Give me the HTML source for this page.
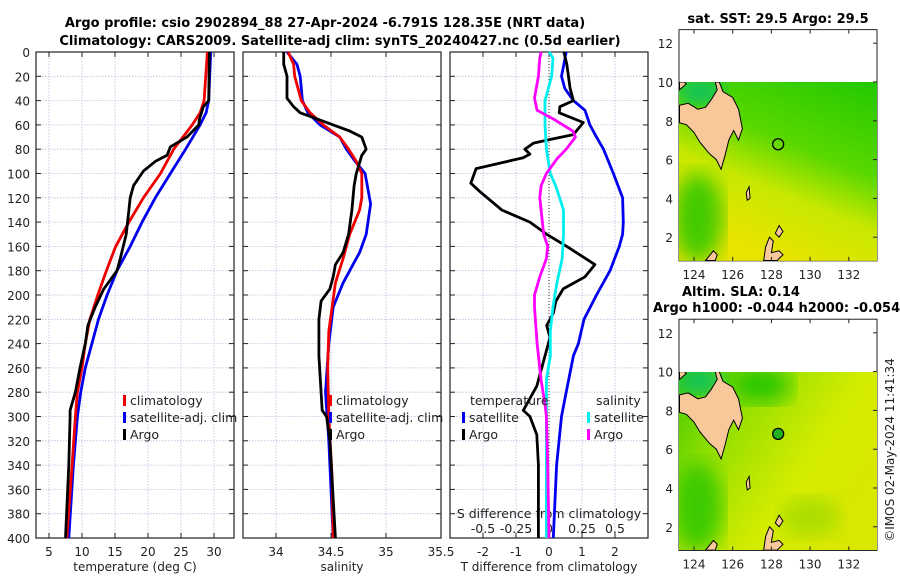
<!DOCTYPE html>
<html><head><meta charset="utf-8"><style>
body{margin:0;background:#fff;}
svg{display:block;font-family:"DejaVu Sans","Liberation Sans",sans-serif;}
.t{font-size:12px;fill:#222;}
.lg{font-size:12.5px;fill:#222;}
.b{font-size:13px;font-weight:bold;fill:#000;}
</style></head><body>
<svg id="c" width="900" height="580" viewBox="0 0 900 580">
<defs>
<linearGradient id="sstg" x1="1" y1="0" x2="0.55" y2="1"><stop offset="0" stop-color="#22c800"/><stop offset="0.45" stop-color="#5ad800"/><stop offset="0.7" stop-color="#c8e800"/><stop offset="1" stop-color="#e8e400"/></linearGradient>
<linearGradient id="slag" x1="0" y1="0" x2="1" y2="0.6"><stop offset="0" stop-color="#40cc00"/><stop offset="0.35" stop-color="#9ae000"/><stop offset="0.7" stop-color="#d4ec00"/><stop offset="1" stop-color="#d8e800"/></linearGradient>
<filter id="bl"><feGaussianBlur stdDeviation="10"/></filter>
<clipPath id="m1c"><rect x="679" y="82" width="198" height="179"/></clipPath>
<clipPath id="m2c"><rect x="679" y="372" width="198" height="178"/></clipPath>
</defs>
<text class="b" x="325" y="27" text-anchor="middle">Argo profile: csio 2902894_88 27-Apr-2024 -6.791S 128.35E (NRT data)</text>
<text class="b" x="340" y="45" text-anchor="middle">Climatology: CARS2009. Satellite-adj clim: synTS_20240427.nc (0.5d earlier)</text>
<g id="plots"></g>
<text class="b" x="778" y="23" text-anchor="middle">sat. SST: 29.5 Argo: 29.5</text>
<text class="b" x="682" y="296">Altim. SLA: 0.14</text>
<text class="b" x="653" y="312">Argo h1000: -0.044 h2000: -0.054</text>
<text class="t" transform="translate(894,450) rotate(-90)" text-anchor="middle">©IMOS 02-May-2024 11:41:34</text>
</svg>
<script>
// ---- data (depth in m) ----
const climTdepth=[0,40,50,60,80,100,120,140,160,180,200,220,240,260,280,300,340,400];
const climT=[29.0,28.5,27.9,26.7,23.9,21.9,19.3,17.1,15.1,13.7,12.4,11.2,10.5,10.0,9.3,9.0,8.5,7.7];
const satTdepth=[0,40,50,60,80,100,120,140,160,180,200,220,240,260,280,300,340,400];
const satT=[29.5,29.2,28.8,27.9,25.7,23.4,21.1,19.1,17.3,15.3,13.8,12.5,11.5,10.5,9.8,9.3,8.7,8.0];
const argoTdepth=[0,40,45,55,60,70,78,85,90,98,110,120,130,150,170,180,195,210,225,240,260,280,295,300,340,400];
const argoT=[29.3,29.2,28.4,27.8,27.7,25.9,23.4,22.9,21.1,19.3,17.8,17.3,17.1,16.7,15.8,15.3,13.3,12.0,10.9,10.5,9.7,9.0,8.2,8.2,8.0,7.5];
const climSdepth=[0,10,20,30,40,50,60,70,80,90,100,120,130,150,170,190,210,230,260,300,350,400];
const climS=[34.11,34.16,34.17,34.2,34.23,34.31,34.43,34.58,34.66,34.73,34.78,34.78,34.76,34.67,34.61,34.54,34.51,34.48,34.47,34.48,34.51,34.52];
const satSdepth=[0,10,20,40,50,60,70,80,90,100,125,150,165,175,190,210,240,280,320,400];
const satS=[34.10,34.19,34.22,34.24,34.29,34.40,34.58,34.64,34.72,34.81,34.86,34.82,34.76,34.70,34.61,34.52,34.48,34.45,34.48,34.52];
const argoSdepth=[0,10,20,38,45,50,55,60,65,70,80,85,100,110,130,150,165,175,185,195,205,220,250,280,295,300,320,400];
const argoS=[34.07,34.07,34.10,34.10,34.16,34.22,34.37,34.52,34.67,34.78,34.82,34.78,34.73,34.71,34.69,34.66,34.61,34.54,34.52,34.49,34.41,34.39,34.39,34.41,34.42,34.46,34.49,34.54];
const dTsatDepth=[0,10,20,30,40,48,60,70,80,100,120,140,150,160,180,200,220,240,250,280,300,340,400];
const dTsat=[0.52,0.45,0.38,0.48,0.74,1.09,1.24,1.44,1.65,1.95,2.23,2.25,2.23,2.13,1.85,1.44,1.06,0.89,0.74,0.52,0.38,0.23,0.13];
const dTargoDepth=[0,10,30,40,45,50,58,68,72,75,80,84,87,96,108,115,130,140,150,160,175,185,195,205,215,225,235,255,275,295,300,315,340,400];
const dTargo=[0.45,0.54,0.64,0.74,0.33,0.31,1.04,0.74,0.03,-0.47,-0.73,-0.58,-0.78,-2.21,-2.37,-2.09,-1.43,-0.58,-0.07,0.54,1.39,1.09,0.43,0.21,0.13,-0.07,0.03,-0.17,-0.37,-0.78,-0.58,-0.37,-0.32,-0.32];
const dSsatDepth=[0,5,20,40,60,80,100,110,120,130,150,170,190,210,230,250,270,300,340,400];
const dSsat=[0.0,0.03,0.02,-0.03,-0.03,-0.02,0.01,0.05,0.08,0.11,0.11,0.10,0.06,0.03,0.01,0.01,-0.02,-0.02,-0.02,-0.02];
const dSargoDepth=[0,5,20,38,48,55,65,70,80,88,100,110,120,150,160,170,185,200,210,240,270,290,300,340,400];
const dSargo=[-0.06,-0.07,-0.08,-0.11,-0.09,0.03,0.18,0.20,0.13,0.06,-0.02,-0.06,-0.07,-0.04,-0.01,-0.02,-0.07,-0.11,-0.11,-0.09,-0.06,-0.03,-0.02,-0.01,0.0];
const depthTicks=[0,20,40,60,80,100,120,140,160,180,200,220,240,260,280,300,320,340,360,380,400];
const tempTicks=[5,10,15,20,25,30];
const salTicks=[34,34.5,35,35.5];
const salTickLabels=["34","34.5","35","35.5"];
const dTTicks=[-2,-1,0,1,2];
const dSTicks=[-0.5,-0.25,0,0.25,0.5];
const lonTicks=[124,126,128,130,132];
const latTicks=[2,4,6,8,10,12];
const argoLon=128.35, argoLat=-(-6.791);

const NS="http://www.w3.org/2000/svg";
const G=document.getElementById('plots');
function mk(tag,attrs,parent){const e=document.createElementNS(NS,tag);for(const k in attrs)e.setAttribute(k,attrs[k]);(parent||G).appendChild(e);return e;}
const Y0=52,Y1=538;
const yD=d=>Y0+(d/400)*(Y1-Y0);
function lin(d0,d1,r0,r1){return v=>r0+(v-d0)/(d1-d0)*(r1-r0);}
const panels=[
 {name:'temperature',x0:36,x1:234,dom:[3.03,33.03]},
 {name:'salinity',x0:243,x1:441,dom:[33.7,35.5]},
 {name:'difference',x0:450,x1:648,dom:[-3,3]}
];
panels.forEach(p=>{p.sx=lin(p.dom[0],p.dom[1],p.x0,p.x1);});
const xT=panels[0].sx, xS=panels[1].sx, xDT=panels[2].sx, xDS=v=>xDT(v*4);

function text(x,y,s,anchor,cls,name){const t=mk('text',{x:x,y:y,'text-anchor':anchor||'start',class:cls||'t'});t.textContent=s;


return t;}

panels.forEach((p,pi)=>{
 const g=mk('g',{});
 
 
 const vt=pi==0?tempTicks:pi==1?salTicks:dTTicks;
 depthTicks.forEach(d=>{const l=mk('line',{x1:p.x0,x2:p.x1,y1:yD(d),y2:yD(d),stroke:'#b8bedd','stroke-width':0.8,'stroke-dasharray':'1.5,1.5'},g);
  
  
  mk('line',{x1:p.x0,x2:p.x0+5,y1:yD(d),y2:yD(d),stroke:'#222'},g);
  mk('line',{x1:p.x1-5,x2:p.x1,y1:yD(d),y2:yD(d),stroke:'#222'},g);});
 vt.forEach(v=>{const x=p.sx(v);const l=mk('line',{x1:x,x2:x,y1:Y0,y2:Y1,stroke:'#b8bedd','stroke-width':0.8,'stroke-dasharray':'1.5,1.5'},g);
  
  
  mk('line',{x1:x,x2:x,y1:Y0,y2:Y0+5,stroke:'#222'},g);mk('line',{x1:x,x2:x,y1:Y1-5,y2:Y1,stroke:'#222'},g);});
 const r=mk('rect',{x:p.x0,y:Y0,width:p.x1-p.x0,height:Y1-Y0,fill:'none',stroke:'#222','stroke-width':1.2},g);
 
 
});
depthTicks.forEach(d=>text(30,yD(d)+5,String(d),'end','t','depth-tick-label'));
tempTicks.forEach(v=>text(xT(v),556,String(v),'middle','t','temp-tick-label'));
salTicks.forEach((v,i)=>text(xS(v),556,salTickLabels[i],'middle','t','salinity-tick-label'));
dTTicks.forEach(v=>text(xDT(v),556,String(v),'middle','t','tdiff-tick-label'));
text(135,571,'temperature (deg C)','middle','t','temp-axis-title');
text(342,571,'salinity','middle','t','salinity-axis-title');
text(549,571,'T difference from climatology','middle','t','tdiff-axis-title');
text(549,518,'S difference from climatology','middle','lg','sdiff-axis-title');
dSTicks.forEach(v=>text(xDS(v),533,String(v),'middle','lg','sdiff-tick-label'));
const z=mk('line',{x1:xDT(0),x2:xDT(0),y1:Y0,y2:Y1,stroke:'#333','stroke-width':1,'stroke-dasharray':'1,2'});



function series(depths,vals,sx,color,name){
 const pts=depths.map((d,i)=>sx(vals[i]).toFixed(1)+','+yD(d).toFixed(1)).join(' ');
 const pl=mk('polyline',{points:pts,fill:'none',stroke:color,'stroke-width':2.8,'stroke-linejoin':'round'});
 
 
}
series(satTdepth,satT,xT,'#0000ee','temp-satellite-line');
series(climTdepth,climT,xT,'#ee0000','temp-climatology-line');
series(argoTdepth,argoT,xT,'#000','temp-argo-line');
series(satSdepth,satS,xS,'#0000ee','sal-satellite-line');
series(climSdepth,climS,xS,'#ee0000','sal-climatology-line');
series(argoSdepth,argoS,xS,'#000','sal-argo-line');
series(dTsatDepth,dTsat,xDT,'#0000ee','tdiff-satellite-line');
series(dTargoDepth,dTargo,xDT,'#000','tdiff-argo-line');
series(dSsatDepth,dSsat,xDS,'#00eeee','sdiff-satellite-line');
series(dSargoDepth,dSargo,xDS,'#ff00ff','sdiff-argo-line');

function legend(x,y,color,label,name){
 const m=mk('rect',{x:x,y:y-10,width:3,height:11,fill:color});
 
 
 text(x+7,y,label,'start','lg',name+'-label');
}
[[123,'#ee0000','climatology'],[123,'#0000ee','satellite-adj. clim'],[123,'#000','Argo']].forEach((e,i)=>legend(e[0],405+i*17,e[1],e[2],'legend-temp-'+i));
[[329,'#ee0000','climatology'],[329,'#0000ee','satellite-adj. clim'],[329,'#000','Argo']].forEach((e,i)=>legend(e[0],405+i*17,e[1],e[2],'legend-sal-'+i));
text(470,405,'temperature','start','lg','legend-tdiff-heading');
text(596,405,'salinity','start','lg','legend-sdiff-heading');
legend(462,422,'#0000ee','satellite','legend-tdiff-sat');
legend(462,439,'#000','Argo','legend-tdiff-argo');
legend(587,422,'#00eeee','satellite','legend-sdiff-sat');
legend(587,439,'#ff00ff','Argo','legend-sdiff-argo');

// ---- maps ----
const mx=lon=>694+(lon-124)*19.35;
const land=[[125.3,10],[125.5,9.5],[126.0,9.2],[126.3,8.6],[126.5,7.6],[126.3,7.0],[126.05,7.5],[125.8,7.0],[125.6,6.2],[125.4,5.5],[125.15,6.0],[124.8,6.3],[124.3,6.9],[124.0,7.4],[123.6,7.8],[123.25,7.9],[123.25,8.8],[123.7,8.9],[124.2,8.6],[124.6,8.7],[124.9,9.1],[125.2,9.6],[125.1,10]];
const islands=[
 [[123.25,9.6],[123.6,9.9],[123.5,10],[123.25,10]],
 [[127.6,0.8],[127.7,1.5],[127.9,2.0],[128.1,1.8],[128.0,1.2],[128.4,1.3],[128.6,1.1],[128.3,0.8]],
 [[128.2,2.2],[128.4,2.6],[128.6,2.3],[128.4,2.0]],
 [[124.6,0.8],[125.0,1.3],[125.2,1.1],[125.1,0.8]],
 [[126.7,4.3],[126.85,4.6],[126.9,4.0],[126.75,3.9]]
];
function drawMap(top,clip,grad,name,fillCircle){
 const my=lat=>top+(10-lat)*19.4;
 const g=mk('g',{});
 
 
 mk('rect',{x:679,y:my(12.7),width:198,height:my(0.78)-my(12.7),fill:'#fff',stroke:'#222'},g);
 const f=mk('g',{'clip-path':'url(#'+clip+')'},g);
 mk('rect',{x:679,y:my(10),width:198,height:my(0.78)-my(10),fill:'url(#'+grad+')'},f);
 mk('ellipse',{cx:mx(124.2),cy:my(3),rx:25,ry:45,fill:'#30c800',filter:'url(#bl)',opacity:0.9},f);
 mk('ellipse',{cx:mx(124.3),cy:my(9.5),rx:25,ry:12,fill:'#00c070',filter:'url(#bl)'},f);
 if(fillCircle){mk('ellipse',{cx:mx(127.5),cy:my(9.3),rx:30,ry:18,fill:'#10c000',filter:'url(#bl)',opacity:0.8},f);
  mk('ellipse',{cx:mx(130),cy:my(2.5),rx:30,ry:20,fill:'#9ad800',filter:'url(#bl)',opacity:0.7},f);}
 const lp=l=>l.map(q=>mx(q[0]).toFixed(1)+','+my(q[1]).toFixed(1)).join(' ');
 mk('polygon',{points:lp(land),fill:'#f8c89a',stroke:'#000','stroke-width':1},f);
 islands.forEach(is=>mk('polygon',{points:lp(is),fill:'#f8c89a',stroke:'#000','stroke-width':1},f));
 const c=mk('circle',{cx:mx(argoLon),cy:my(argoLat),r:5.5,fill:fillCircle?'#20b020':'none',stroke:'#000','stroke-width':1.3},g);
 
 
 lonTicks.forEach(v=>{mk('line',{x1:mx(v),x2:mx(v),y1:my(0.78),y2:my(0.78)-4,stroke:'#222'},g);mk('line',{x1:mx(v),x2:mx(v),y1:my(12.7),y2:my(12.7)+4,stroke:'#222'},g);
  text(mx(v),my(0.78)+18,String(v),'middle','t','lon-tick-label');});
 latTicks.forEach(v=>{mk('line',{x1:877,x2:873,y1:my(v),y2:my(v),stroke:'#222'},g);
  text(673,my(v)+5,String(v),'end','t','lat-tick-label');});
}
drawMap(82,'m1c','sstg','sst-map',false);
drawMap(371.6,'m2c','slag','sla-map',true);
</script>
</body></html>
